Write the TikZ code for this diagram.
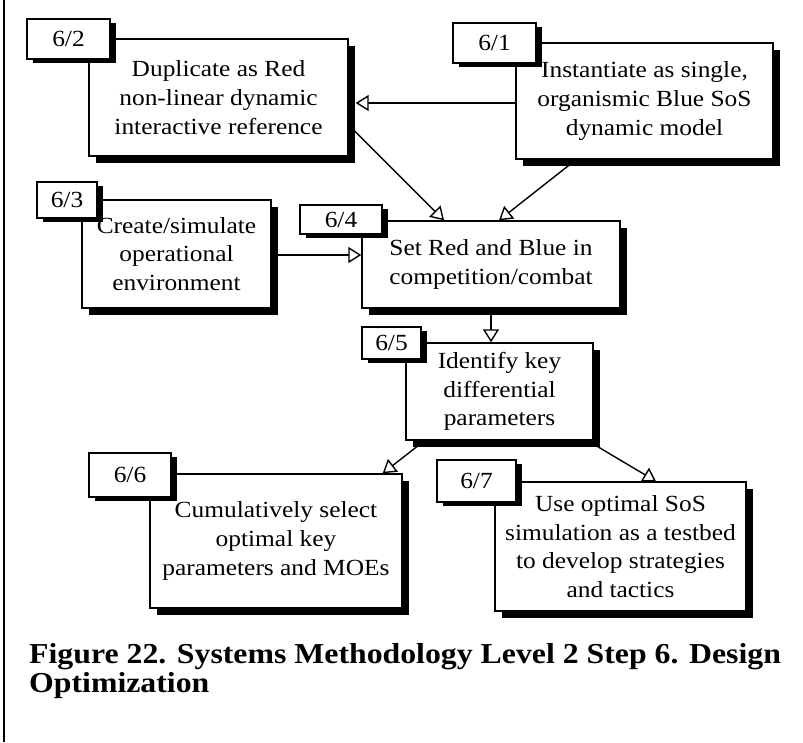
\documentclass[tikz,border=0pt]{standalone}
\usepackage{fontspec}
\setmainfont{Liberation Serif}[FakeStretch=1.1]
\usetikzlibrary{arrows.meta,shadows,backgrounds}

\tikzset{
  boxtext/.style={font=\fontsize{23.1}{28.7}\selectfont, align=center},
  mainbox/.style={draw, line width=1.4pt, fill=white, inner sep=0pt, boxtext,
    general shadow={fill=black, shadow xshift=6.5pt, shadow yshift=-6.5pt}},
  tagbox/.style={draw, line width=1.4pt, fill=white, inner sep=0pt, boxtext,
    general shadow={fill=black, shadow xshift=6pt, shadow yshift=-4pt}},
  flow/.style={line width=1.4pt, -{Triangle[length=13pt,width=16pt,fill=white]}},
  captext/.style={font=\bfseries\fontsize{28.9}{29}\selectfont, inner sep=0pt, anchor=base west},
}

\begin{document}
\begin{tikzpicture}[x=1pt, y=-1pt]
\useasboundingbox (0,0) rectangle (803,742);

% frame rule on the left
\draw[line width=1.8pt] (4,0) -- (4,742);

% step 6/2
\node[mainbox, minimum width=259pt, minimum height=117pt] (B62) at (218.5,97.5)
  {Duplicate as Red\\non-linear dynamic\\interactive reference};
\node[tagbox, minimum width=83pt, minimum height=40pt] (L62) at (68.5,39) {6/2};

% step 6/1
\node[mainbox, minimum width=257pt, minimum height=116pt] (B61) at (644.5,101)
  {Instantiate as single,\\organismic Blue SoS\\ dynamic model};
\node[tagbox, minimum width=83pt, minimum height=40pt] (L61) at (494.5,43) {6/1};

% step 6/3
\node[mainbox, minimum width=189pt, minimum height=108pt] (B63) at (176.5,254)
  {Create/simulate\\operational\\environment};
\node[tagbox, minimum width=60pt, minimum height=36pt] (L63) at (67,200) {6/3};

% step 6/4
\node[mainbox, minimum width=258pt, minimum height=87pt] (B64) at (491,264.5)
  {Set Red and Blue in\\competition/combat};
\node[tagbox, minimum width=82pt, minimum height=29pt] (L64) at (341,219.5) {6/4};

% step 6/5
\node[mainbox, minimum width=187pt, minimum height=97pt] (B65) at (499.5,391.5)
  {Identify key\\differential\\parameters};
\node[tagbox, minimum width=59pt, minimum height=32pt] (L65) at (391.5,343) {6/5};

% step 6/6
\node[mainbox, minimum width=252pt, minimum height=134pt] (B66) at (276,541)
  {Cumulatively select\\optimal key\\parameters and MOEs};
\node[tagbox, minimum width=82pt, minimum height=44pt] (L66) at (130,475) {6/6};

% step 6/7
\node[mainbox, minimum width=251pt, minimum height=129pt] (B67) at (620.5,546.5)
  {Use optimal SoS\\simulation as a testbed\\to develop strategies\\and tactics};
\node[tagbox, minimum width=79pt, minimum height=42pt] (L67) at (476.5,481) {6/7};

% connectors, kept behind the boxes
\begin{scope}[on background layer]
  \draw[flow] ([yshift=-2pt]B61.west) -- ([xshift=7pt,yshift=-5.5pt]B62.east);
  \draw[flow] ([yshift=-27.5pt]B62.east) -- ([xshift=-47pt]B64.north);
  \draw[flow] ([xshift=-68.5pt]B61.south) -- ([xshift=8pt]B64.north);
  \draw[flow] ([yshift=-1pt]B63.east) -- ([yshift=9.5pt]B64.west);
  \draw[flow] (B64.south) -- (B64.south |- B65.north);
  \draw[flow] ([xshift=-75pt]B65.south) -- ([xshift=-20pt]B66.north east);
  \draw[flow] ([xshift=-6pt]B65.south east) -- ([xshift=35.5pt]B67.north);
\end{scope}

% caption
\node[captext] (cap1) at (29,663) {Figure 22. Systems Methodology Level 2 Step 6. Design};
\node[captext] (cap2) at (29,692) {Optimization};
\end{tikzpicture}
\end{document}
